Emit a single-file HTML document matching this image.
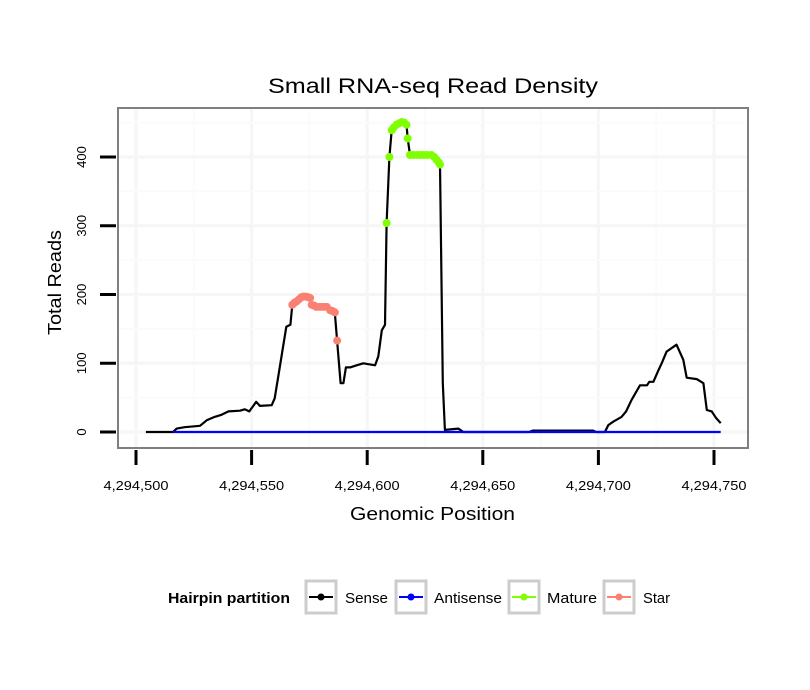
<!DOCTYPE html>
<html><head><meta charset="utf-8"><style>
body{margin:0;background:#fff;}
svg{display:block;font-family:"Liberation Sans",Arial,sans-serif;}
</style></head><body>
<svg id="chart" width="810" height="690" viewBox="0 0 810 690">
<rect width="810" height="690" fill="#fff"/>
<text x="268" y="93" font-size="21" textLength="330" lengthAdjust="spacingAndGlyphs" fill="#000">Small RNA-seq Read Density</text>
<g id="grid"></g>
<g id="series"></g>
<rect x="118" y="108" width="630" height="340" fill="none" stroke="#7f7f7f" stroke-width="2"/>
<g id="axes"></g>
<text x="350" y="520" font-size="18" textLength="165" lengthAdjust="spacingAndGlyphs">Genomic Position</text>
<text transform="translate(61,335) rotate(-90)" font-size="18" textLength="105" lengthAdjust="spacingAndGlyphs">Total Reads</text>
<g>
<text x="168" y="603" font-size="14.5" font-weight="bold" textLength="122" lengthAdjust="spacingAndGlyphs">Hairpin partition</text>
<g><rect x="306" y="581" width="30" height="32" fill="#fff" stroke="#ccc" stroke-width="3"/><line x1="309" y1="597" x2="333" y2="597" stroke="#000" stroke-width="2"/><circle cx="321" cy="597" r="3.5" fill="#000"/><text x="345" y="603" font-size="15" textLength="43" lengthAdjust="spacingAndGlyphs">Sense</text></g>
<g><rect x="396" y="581" width="30" height="32" fill="#fff" stroke="#ccc" stroke-width="3"/><line x1="399" y1="597" x2="423" y2="597" stroke="#0000ff" stroke-width="2"/><circle cx="411" cy="597" r="3.5" fill="#0000ff"/><text x="434" y="603" font-size="15" textLength="68" lengthAdjust="spacingAndGlyphs">Antisense</text></g>
<g><rect x="509" y="581" width="30" height="32" fill="#fff" stroke="#ccc" stroke-width="3"/><line x1="512" y1="597" x2="536" y2="597" stroke="#7fff00" stroke-width="2"/><circle cx="524" cy="597" r="3.5" fill="#7fff00"/><text x="547" y="603" font-size="15" textLength="50" lengthAdjust="spacingAndGlyphs">Mature</text></g>
<g><rect x="604" y="581" width="30" height="32" fill="#fff" stroke="#ccc" stroke-width="3"/><line x1="607" y1="597" x2="631" y2="597" stroke="#fa8072" stroke-width="2"/><circle cx="619" cy="597" r="3.5" fill="#fa8072"/><text x="643" y="603" font-size="15" textLength="27" lengthAdjust="spacingAndGlyphs">Star</text></g>
</g>
</svg>
<script>
const base = 4294500;
const xTicks = [0, 50, 100, 150, 200, 250];
const xTickLabels = ["4,294,500","4,294,550","4,294,600","4,294,650","4,294,700","4,294,750"];
const yTicks = [0, 100, 200, 300, 400];
const yTickLabels = ["0","100","200","300","400"];
const senseX = [4.3,16,17.6,21,27.7,30.6,34,37,40,45,47,49,52,53.6,58.7,60,62,65,66.8,67.6,69.5,72.4,75.3,76,78,82.5,84,86,87,88.5,89.7,90.8,92.6,95.4,98.3,103.4,104.8,106.3,107.7,108.4,109.6,110.6,112.7,115,117,117.5,118.5,127.7,130,131.5,132.7,133.6,139.4,141.6,170,171.7,197.7,199,202.8,204.3,206.4,210,212,214.4,218,221,222,223.8,226,227.4,229.5,233.8,236.7,238.2,242.5,245.4,246.9,249,251,252.9];
const senseY = [0,0,5,7,9,17,22,25,30,31,33,30,44,38,39,49,90,153,156,185,190,197,195,185,182,182,177,174,133,71,71,94,94,97,100,97,110,148,156,304,400,439,447,451,447,427,403,403,396,389,71,3,5,0,0,2,2,0,0,10,15,22,30,47,68,68,73,73,90,100,117,127,105,79,77,71,32,30,20,13];
const antisenseX = [16, 252.9];
const antisenseY = [0, 0];
const starX = [67.6,68.5,69.5,70.5,71.5,72.4,73.5,74.5,75.3,76,77,78,79.5,81,82.5,84,85,86,87];
const starY = [185,188,190,193,196,197,197,196,195,185,184,182,182,182,182,177,176,174,133];
const matureX = [108.4,109.6,110.6,111.5,112.7,113.8,115,116,117,117.5,118.5,120,121.5,123,124.5,126,127.7,129,130,131,131.5];
const matureY = [304,400,439,443,447,449,451,450,447,427,403,403,403,403,403,403,403,400,396,392,389];

const NS="http://www.w3.org/2000/svg";
const X = v => 136 + v * 2.312;
const Y = v => 432 - v * 0.6875;
function mk(tag, attrs, parent){const e=document.createElementNS(NS,tag);for(const k in attrs)e.setAttribute(k,attrs[k]);parent.appendChild(e);return e;}
const grid=document.getElementById('grid'), series=document.getElementById('series'), axes=document.getElementById('axes');
mk('rect',{x:118,y:108,width:630,height:340,fill:'#fff'},grid);
for(let i=-25;i<=275;i+=25){const x=X(i);if(x<119||x>747)continue;
  const l=mk('line',{x1:x,y1:109,x2:x,y2:447,stroke:i%50===0?'#f6f6f6':'#fbfbfb','stroke-width':i%50===0?3:2},grid);
  
  }
for(let v=-50;v<=500;v+=50){const y=Y(v);if(y<109||y>447)continue;
  const l=mk('line',{x1:119,y1:y,x2:747,y2:y,stroke:v%100===0?'#f6f6f6':'#fbfbfb','stroke-width':v%100===0?3:2},grid);
  
  }
function line(xs,ys,color,name){const d=xs.map((x,i)=>(i?'L':'M')+X(x).toFixed(1)+','+Y(ys[i]).toFixed(1)).join('');
  const p=mk('path',{d:d,fill:'none',stroke:color,'stroke-width':2.2,'stroke-linejoin':'round'},series);
  
  }
function dots(xs,ys,color,name){xs.forEach((x,i)=>{const c=mk('circle',{cx:X(x),cy:Y(ys[i]),r:4,fill:color},series);
  
  });}
line(senseX,senseY,'#000','sense-line');
line(antisenseX,antisenseY,'#0000ff','antisense-line');
dots(starX,starY,'#fa8072','star-point');
dots(matureX,matureY,'#7fff00','mature-point');
xTicks.forEach((t,i)=>{const x=X(t);
  const tk=mk('line',{x1:x,y1:450,x2:x,y2:465,stroke:'#000','stroke-width':3},axes);
  
  
  const tx=mk('text',{x:x,y:490,'font-size':13,'text-anchor':'middle',textLength:65,lengthAdjust:'spacingAndGlyphs'},axes);tx.textContent=xTickLabels[i];
  
  });
yTicks.forEach((t,i)=>{const y=Y(t);
  const tk=mk('line',{x1:100,y1:y,x2:116,y2:y,stroke:'#000','stroke-width':3},axes);
  
  
  const tx=mk('text',{transform:`translate(86,${y}) rotate(-90)`,'font-size':13,'text-anchor':'middle'},axes);tx.textContent=yTickLabels[i];
  
  });
</script>
</body></html>
